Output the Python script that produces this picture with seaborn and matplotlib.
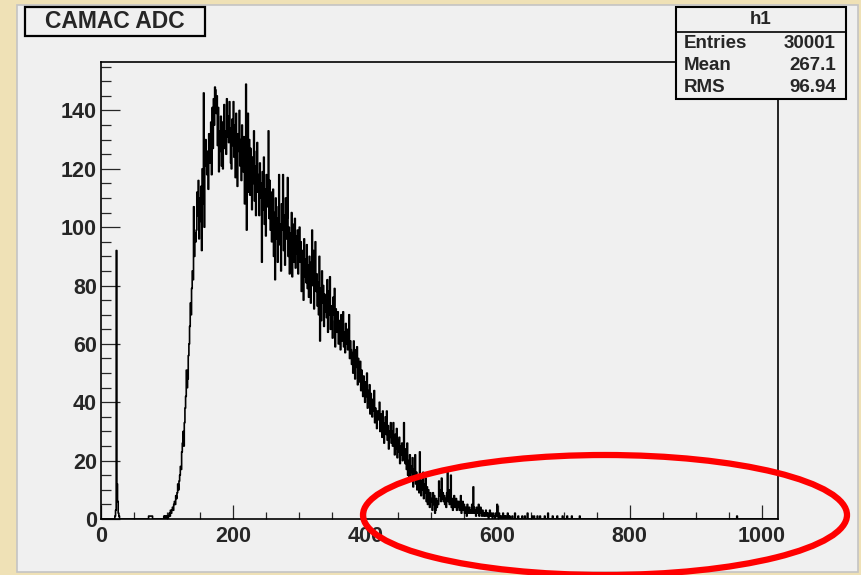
import numpy as np
import pandas as pd
import matplotlib
matplotlib.use("Agg")
import matplotlib.pyplot as plt
from matplotlib.patches import Rectangle, Ellipse
from matplotlib.lines import Line2D
from matplotlib.ticker import MultipleLocator
import seaborn as sns

# ---- histogram contents (1 ADC channel per bin) ----
n_channels = 1024

pedestal_channels = [21, 22, 23, 24, 25, 26, 27]
pedestal_counts = [1, 3, 92, 12, 6, 2, 1]

low_channels = [72, 73, 74, 75, 76, 77, 95, 97, 99]
low_counts = [1, 1, 1, 1, 1, 1, 1, 1, 1]

# counts for channels 100..619
main_start = 100
main_counts = [
    1, 0, 1, 2, 1, 3, 2, 3, 4, 3, 5, 6, 5, 8, 7, 9, 12, 10, 13, 15,
    18, 17, 23, 26, 30, 25, 33, 38, 42, 51, 45, 48, 56, 60, 66, 74, 70, 79, 85, 82,
    107, 90, 98, 95, 99, 112, 104, 116, 96, 110, 102, 114, 92, 120, 108, 146, 100, 124, 130, 121,
    118, 126, 113, 132, 122, 129, 136, 118, 141, 127, 144, 135, 148, 147, 139, 145, 128, 141, 119, 133,
    126, 138, 121, 136, 120, 129, 142, 127, 133, 125, 144, 131, 138, 129, 143, 134, 122, 120, 137, 128,
    143, 124, 135, 117, 139, 128, 114, 132, 126, 140, 121, 130, 116, 135, 125, 119, 131, 108, 127, 149,
    99, 118, 139, 112, 130, 111, 127, 120, 106, 124, 115, 133, 109, 121, 104, 126, 129, 112, 118, 104,
    122, 110, 115, 88, 119, 106, 124, 101, 113, 97, 118, 107, 112, 133, 103, 116, 99, 112, 95, 108,
    113, 90, 105, 82, 110, 96, 103, 88, 107, 118, 94, 101, 85, 108, 99, 118, 92, 104, 87, 110,
    96, 103, 117, 90, 100, 84, 98, 92, 105, 83, 101, 95, 88, 103, 86, 97, 91, 99, 84, 93,
    100, 88, 95, 78, 92, 85, 75, 96, 83, 89, 81, 94, 79, 87, 76, 90, 83, 74, 88, 99,
    80, 92, 72, 86, 95, 78, 84, 73, 81, 70, 90, 61, 79, 68, 85, 74, 80, 66, 77, 71,
    75, 69, 82, 64, 78, 70, 83, 65, 73, 68, 62, 76, 70, 79, 59, 72, 66, 64, 71, 60,
    68, 63, 58, 70, 61, 66, 71, 59, 64, 57, 67, 60, 65, 58, 62, 70, 55, 61, 58, 53,
    57, 50, 61, 54, 48, 58, 52, 59, 46, 55, 50, 47, 54, 44, 51, 48, 42, 49, 45, 40,
    47, 42, 50, 38, 44, 40, 46, 36, 43, 39, 35, 41, 37, 44, 33, 38, 35, 31, 37, 34,
    35, 40, 30, 36, 32, 28, 37, 33, 26, 31, 35, 29, 37, 27, 32, 24, 30, 28, 33, 26,
    30, 25, 33, 27, 22, 29, 24, 31, 21, 27, 23, 28, 19, 25, 22, 26, 20, 24, 33, 21,
    19, 24, 17, 26, 15, 20, 14, 22, 13, 18, 16, 21, 11, 17, 14, 22, 12, 16, 10, 15,
    12, 9, 23, 14, 8, 13, 10, 16, 7, 12, 9, 14, 6, 11, 5, 10, 8, 4, 9, 7,
    6, 3, 9, 5, 8, 2, 3, 7, 4, 6, 5, 13, 8, 10, 6, 14, 7, 9, 6, 8,
    5, 7, 4, 9, 16, 6, 10, 5, 8, 15, 4, 7, 3, 6, 8, 4, 5, 7, 3, 6,
    4, 6, 3, 5, 8, 2, 4, 6, 3, 5, 2, 4, 3, 1, 5, 3, 2, 4, 3, 2,
    3, 5, 2, 11, 4, 2, 3, 1, 4, 2, 3, 5, 1, 2, 4, 2, 1, 3, 2, 1,
    2, 1, 3, 2, 1, 2, 0, 1, 3, 1, 2, 1, 0, 2, 1, 1, 0, 2, 1, 5,
    1, 0, 2, 1, 0, 1, 1, 0, 2, 0, 1, 0, 1, 0, 0, 2, 1, 0, 1, 0,
]

tail_channels = [622, 626, 631, 637, 641, 645, 652, 655, 660, 664, 671, 676,
                 683, 690, 698, 705, 712, 724, 962]
tail_counts = [1, 2, 1, 1, 1, 2, 1, 1, 1, 1, 1, 2, 1, 1, 1, 1, 1, 1, 1]

# statistics box entries
hist_name = "h1"
stat_labels = ["Entries", "Mean", "RMS"]
stat_values = ["30001", "267.1", "96.94"]
title_text = "CAMAC ADC"

x_major_ticks = [0, 200, 400, 600, 800, 1000]
y_major_ticks = [0, 20, 40, 60, 80, 100, 120, 140]

# ---- assemble the channel table ----
main_channels = list(range(main_start, main_start + len(main_counts)))
channels = pedestal_channels + low_channels + main_channels + tail_channels
counts = pedestal_counts + low_counts + main_counts + tail_counts
df = pd.DataFrame({"channel": np.asarray(channels, dtype=float) + 0.5,
                   "counts": np.asarray(counts, dtype=float)})

# ---- style ----
sns.set_style("ticks")
plt.rcParams["font.family"] = ["Liberation Sans", "DejaVu Sans"]
plt.rcParams["font.weight"] = "bold"

W, H = 862, 575
BEIGE = "#efe1b6"
PANEL = "#f0f0f0"


def fx(px):
    return px / W


def fy(py):
    return 1 - py / H


fig = plt.figure(figsize=(W / 100, H / 100), dpi=100)
fig.patch.set_facecolor(BEIGE)

# canvas panel
fig.add_artist(Rectangle((fx(17), fy(572)), fx(858) - fx(17), fy(5) - fy(572),
                         transform=fig.transFigure, facecolor=PANEL,
                         edgecolor="#c4c4c4", lw=1.2, zorder=0))

ax = fig.add_axes([fx(101), fy(519), fx(777.7) - fx(101), fy(62.3) - fy(519)])
ax.set_facecolor(PANEL)

sns.histplot(data=df, x="channel", weights="counts",
             binwidth=1, binrange=(0, n_channels), element="step", fill=False,
             color="black", linewidth=1.2, ax=ax)

ax.set_xlim(0, n_channels)
ax.set_ylim(0, 156.5)
ax.set_xlabel("")
ax.set_ylabel("")
ax.set_xticks(x_major_ticks)
ax.set_yticks(y_major_ticks)
ax.xaxis.set_minor_locator(MultipleLocator(50))
ax.yaxis.set_minor_locator(MultipleLocator(5))
ax.tick_params(axis="x", which="major", direction="in", length=10, width=0.9,
               labelsize=15.5, pad=5, top=False)
ax.tick_params(axis="x", which="minor", direction="in", length=5, width=0.9, top=False)
ax.tick_params(axis="y", which="major", direction="in", length=14, width=0.9,
               labelsize=15.5, pad=3, right=False)
ax.tick_params(axis="y", which="minor", direction="in", length=7, width=0.9, right=False)
for lab in ax.get_xticklabels() + ax.get_yticklabels():
    lab.set_fontweight("bold")
for sp in ax.spines.values():
    sp.set_visible(True)
    sp.set_color("black")
    sp.set_linewidth(1.2)

# title box
fig.add_artist(Rectangle((fx(25), fy(36)), fx(205) - fx(25), fy(7) - fy(36),
                         transform=fig.transFigure, facecolor=PANEL,
                         edgecolor="black", lw=1.6, zorder=5))
fig.text(fx(115), fy(22), title_text, ha="center", va="center",
         fontsize=16.5, fontweight="bold", zorder=6)

# statistics box
bx0, by0, bx1, by1 = 676, 7, 846, 99
fig.add_artist(Rectangle((fx(bx0), fy(by1)), fx(bx1) - fx(bx0), fy(by0) - fy(by1),
                         transform=fig.transFigure, facecolor=PANEL,
                         edgecolor="black", lw=1.5, zorder=5))
fig.add_artist(Line2D([fx(bx0), fx(bx1)], [fy(32), fy(32)],
                      transform=fig.transFigure, color="black", lw=1.2, zorder=6))
fig.text(fx((bx0 + bx1) / 2), fy(20), hist_name, ha="center", va="center",
         fontsize=13.5, fontweight="bold", zorder=6)
for i, (lab, val) in enumerate(zip(stat_labels, stat_values)):
    yy = fy(43 + 22 * i)
    fig.text(fx(684), yy, lab, ha="left", va="center", fontsize=13.5,
             fontweight="bold", zorder=6)
    fig.text(fx(836), yy, val, ha="right", va="center", fontsize=13.5,
             fontweight="bold", zorder=6)

# highlight around the tail region
fig.add_artist(Ellipse((fx(605), fy(515)), width=484 / W, height=120 / H,
                       transform=fig.transFigure, fill=False,
                       edgecolor="#ff0000", lw=4.5, zorder=10))

fig.savefig("out.png", dpi=100, facecolor=fig.get_facecolor())
